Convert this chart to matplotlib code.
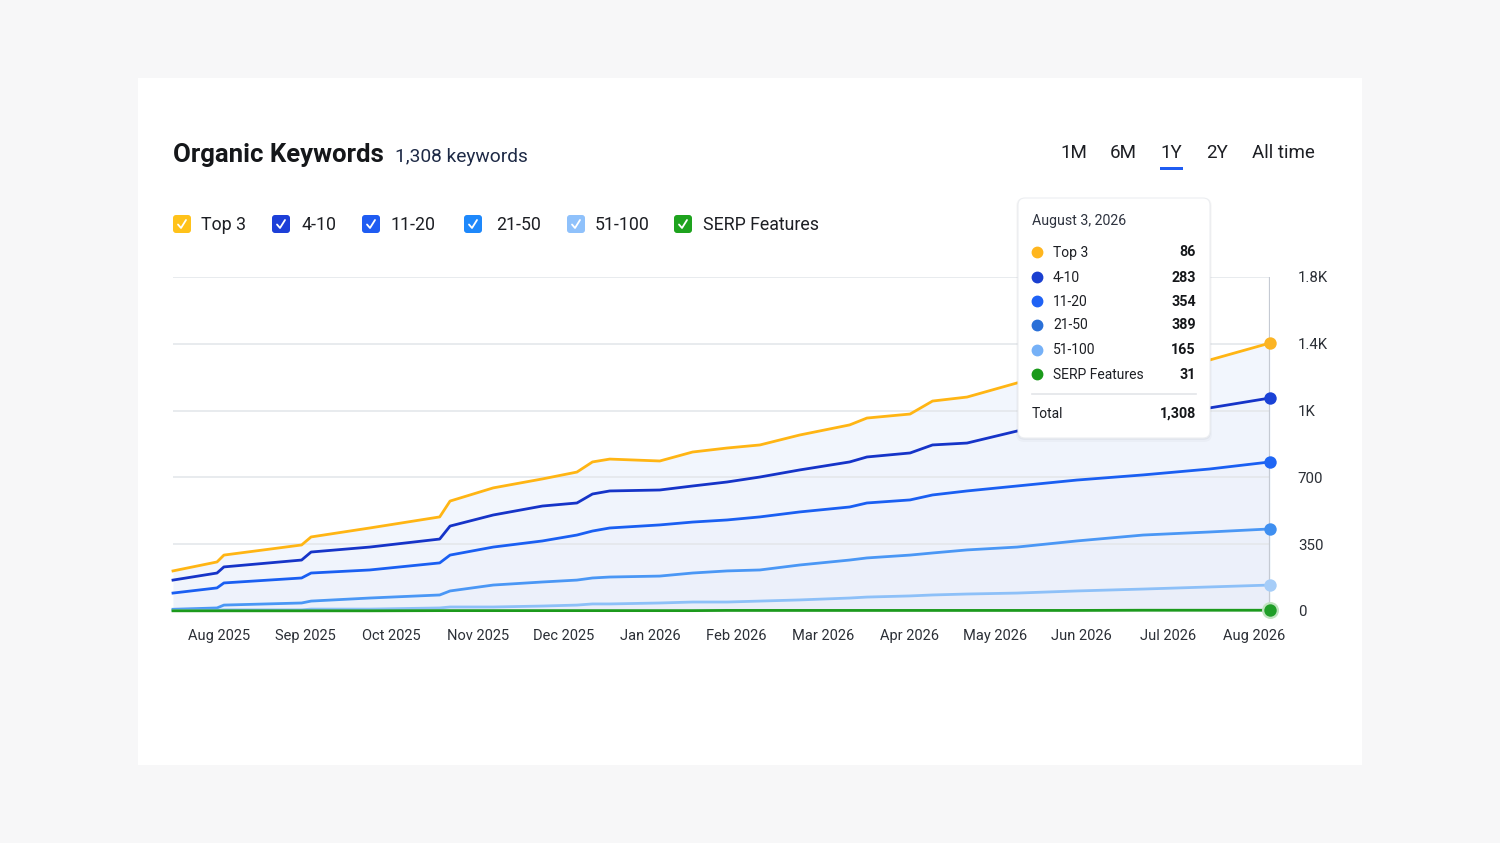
import numpy as np
import matplotlib
matplotlib.use("Agg")
import matplotlib.pyplot as plt
from matplotlib.patches import FancyBboxPatch, Rectangle
from matplotlib.lines import Line2D
from matplotlib.transforms import IdentityTransform

plt.rcParams['font.family'] = ['Roboto', 'Liberation Sans', 'DejaVu Sans']

W, H = 1500, 843

# --- data ---
months = ['Aug 2025', 'Sep 2025', 'Oct 2025', 'Nov 2025', 'Dec 2025', 'Jan 2026',
          'Feb 2026', 'Mar 2026', 'Apr 2026', 'May 2026', 'Jun 2026', 'Jul 2026', 'Aug 2026']

# sample positions, in months from Aug 2025
t = [-0.53, -0.02, 0.06, 0.96, 1.07, 1.75, 2.56, 2.68, 3.18, 3.75, 4.15, 4.33, 4.53, 5.11,
     5.49, 5.89, 6.27, 6.73, 7.31, 7.51, 8.01, 8.27, 8.67, 9.25, 9.94, 10.71, 11.48, 12.18]

# stacked bands, bottom to top
serp = [1, 1, 1, 1, 1, 1, 2, 2, 2, 2, 2, 2, 2, 2, 2, 3, 3, 3, 3, 3, 3, 3, 3, 3, 3, 4, 4, 4]
kw_51_100 = [3, 3, 5, 5, 9, 9, 14, 19, 19, 24, 29, 35, 35, 40, 45, 44, 49, 55, 65, 70,
             76, 81, 86, 91, 102, 111, 122, 132]
kw_21_50 = [5, 12, 25, 36, 42, 58, 68, 84, 115, 126, 131, 136, 141, 141, 152, 163, 163,
            183, 199, 205, 214, 220, 231, 241, 262, 283, 288, 294]
kw_11_20 = [85, 105, 116, 131, 147, 147, 168, 188, 199, 215, 236, 246, 257, 268, 267, 267,
            278, 278, 278, 288, 289, 304, 309, 320, 319, 315, 330, 351]
kw_4_10 = [68, 78, 84, 94, 110, 120, 125, 152, 168, 183, 168, 194, 194, 183, 189, 199, 209,
           220, 236, 241, 246, 262, 251, 288, 299, 309, 320, 335]
top3 = [48, 58, 62, 79, 79, 100, 116, 131, 142, 142, 162, 168, 167, 152, 178, 178, 168,
        183, 194, 204, 204, 230, 241, 252, 246, 251, 251, 288]

y_ticks = [0, 350, 700, 1050, 1400, 1750]
y_labels = ['0', '350', '700', '1K', '1.4K', '1.8K']

series_names = ['Top 3', '4-10', '11-20', '21-50', '51-100', 'SERP Features']
tip_date = 'August 3, 2026'
tip_values = [86, 283, 354, 389, 165, 31]
tip_total = '1,308'
ranges = ['1M', '6M', '1Y', '2Y', 'All time']

# --- styling ---
line_cols = ['#ffb514', '#1634c8', '#1a5ff2', '#4a97f5', '#8dc0f8', '#1c9a1c']
mark_cols = ['#fbb424', '#1a42d6', '#1f66f4', '#3f8ff0', '#a6cdf8', '#1f9e28']
box_cols = ['#ffc21a', '#1d3fd8', '#1f5cf2', '#1e88fb', '#8fc1fb', '#1ea31e']
dot_cols = ['#ffb61e', '#1a3fd0', '#1f62f5', '#2a70d8', '#76b1f7', '#1a9a1a']

fig = plt.figure(figsize=(W / 100, H / 100), dpi=100, facecolor='#f7f7f8')
ID = IdentityTransform()


def P(x, y):
    # picture pixel (top-left origin) -> display pixel
    return x, H - y


def ftext(x, y, s, **kw):
    fig.text(x / W, 1 - y / H, s, **kw)


# white card
fig.add_artist(Rectangle(P(138, 765), 1224, 687, transform=ID, facecolor='white',
                         edgecolor='none', zorder=-10))

# plot area
ax = fig.add_axes([173 / W, 1 - 611 / H, (1270 - 173) / W, (611 - 277) / H])
ax.set_facecolor('none')
for s in ax.spines.values():
    s.set_visible(False)

bands = [serp, kw_51_100, kw_21_50, kw_11_20, kw_4_10, top3]
levels = np.cumsum(np.array(bands, dtype=float), axis=0)

ax.fill_between(t, 0, levels[-1], color='#5b93e8', alpha=0.075, lw=0, zorder=1)
for lvl in levels[1:-1]:
    ax.fill_between(t, 0, lvl, color='#5b93e8', alpha=0.01, lw=0, zorder=1)

# levels[5] is Top 3 line (orange) ... levels[0] is SERP (green)
order = [5, 4, 3, 2, 1, 0]
for i, li in enumerate(order):
    ax.plot(t, levels[li], color=line_cols[i], lw=2.0, zorder=3, clip_on=False,
            solid_joinstyle='round')

ax.axvline(t[-1], color='#c5cad3', lw=1.6, zorder=2)

for i, li in enumerate(order):
    if i == 5:
        ax.scatter([t[-1]], [levels[li][-1]], s=150, color='#bfe3bf', zorder=4, clip_on=False,
                   linewidths=0)
    ax.scatter([t[-1]], [levels[li][-1]], s=80, color=mark_cols[i], zorder=5, clip_on=False,
               linewidths=0)

ax.set_xlim(t[0], t[-1])
ax.set_ylim(0, 1750)
ax.set_xticks(range(len(months)))
ax.set_xticklabels(months)
ax.set_yticks(y_ticks)
ax.set_yticklabels(y_labels)
ax.yaxis.tick_right()
ax.tick_params(axis='x', length=0, pad=13, labelsize=10.5, labelcolor='#2b2f36')
ax.tick_params(axis='y', length=0, pad=20, labelsize=10.8, labelcolor='#2b2f36')
for lab in ax.get_yticklabels():
    lab.set_horizontalalignment('left')
ax.grid(axis='y', color='#e4e7eb', lw=1.2, zorder=0)

# title
ftext(173, 155, 'Organic Keywords', fontsize=18.5, fontweight='bold', color='#15171a',
      va='center', ha='left')
ftext(395, 157, '1,308 keywords', fontsize=13.8, color='#1e2a46', va='center', ha='left')

# time range selector
range_x = [1074, 1123, 1171, 1217, 1283]
for rx, rl in zip(range_x, ranges):
    ftext(rx, 153, rl, fontsize=13.5, color='#1d1f24', va='center', ha='center')
fig.add_artist(Rectangle(P(1160, 170), 23, 3, transform=ID, facecolor='#1f5cf2',
                         edgecolor='none'))

# legend checkboxes
box_x = [173, 272, 362, 464, 567, 674]
lab_x = [201, 301, 391, 496, 595, 703]
for bx, lx, c, name in zip(box_x, lab_x, box_cols, series_names):
    fig.add_artist(FancyBboxPatch(P(bx, 233), 18, 18, transform=ID,
                                  boxstyle='round,pad=0,rounding_size=3',
                                  facecolor=c, edgecolor='none'))
    xs = [bx + 5, bx + 8, bx + 13]
    ys = [H - 224.5, H - 228, H - 220]
    fig.add_artist(Line2D(xs, ys, transform=ID, color='white', lw=1.3,
                          solid_capstyle='round', solid_joinstyle='round'))
    ftext(lx, 225, name, fontsize=12.8, color='#1d1f24', va='center', ha='left')

# tooltip
for off, a in [(4, 0.025), (2, 0.035)]:
    fig.add_artist(FancyBboxPatch(P(1018 - off / 2, 438 + off), 192 + off, 240 + off,
                                  transform=ID, boxstyle='round,pad=0,rounding_size=8',
                                  facecolor='#000000', alpha=a, edgecolor='none', zorder=9))
fig.add_artist(FancyBboxPatch(P(1018, 438), 192, 240, transform=ID,
                              boxstyle='round,pad=0,rounding_size=7',
                              facecolor='white', edgecolor='#eceef1', lw=0.8, zorder=10))
ftext(1032, 221, tip_date, fontsize=10.2, color='#2f3440', va='center', ha='left', zorder=11)
row_y = [252, 277, 301, 325, 350, 374]
for ry, c, name, v in zip(row_y, dot_cols, series_names, tip_values):
    fig.add_artist(Line2D([1037], [H - ry], transform=ID, marker='o', markersize=7.5,
                          color=c, linestyle='none', zorder=11))
    ftext(1053, ry + 0.5, name, fontsize=10, color='#1d1f24', va='center', ha='left',
          zorder=11)
    ftext(1196, ry + 0.5, str(v), fontsize=10.3, fontweight='bold', color='#15171a',
          va='center', ha='right', zorder=11)
fig.add_artist(Line2D([1032, 1196], [H - 394, H - 394], transform=ID, color='#e3e5e9',
                      lw=1.2, zorder=11))
ftext(1032, 414, 'Total', fontsize=10, color='#1d1f24', va='center', ha='left', zorder=11)
ftext(1196, 414, tip_total, fontsize=10.3, fontweight='bold', color='#15171a',
      va='center', ha='right', zorder=11)

fig.savefig('out.png', dpi=100, facecolor=fig.get_facecolor())
